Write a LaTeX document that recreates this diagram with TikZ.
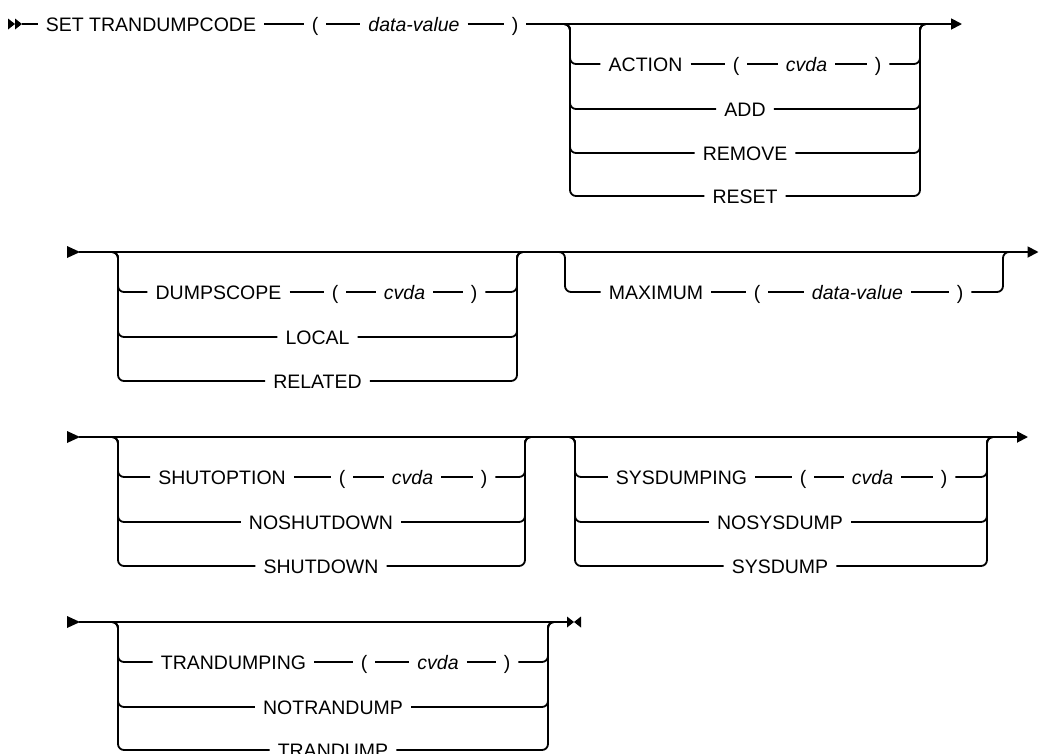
\documentclass[tikz,border=0pt]{standalone}
\usepackage{fontspec}
\setmainfont{Liberation Sans}
\usetikzlibrary{arrows.meta,calc}
\tikzset{
  tok/.style={font=\fontsize{19.5}{22}\selectfont, inner xsep=8pt, inner ysep=0pt, text height=16pt, text depth=2pt},
  kw/.style={tok},
  var/.style={tok, font=\fontsize{19.5}{22}\selectfont\itshape},
  rail/.style={line width=1.8pt, line join=round},
  branch/.style={rail, rounded corners=6pt},
  endarrow/.style={rail, -{Triangle[length=11pt,width=11pt]}},
}
\begin{document}
\begin{tikzpicture}[x=1pt,y=-1pt]
\useasboundingbox (0,0) rectangle (1039,753);

% ---------------- Row 1 ----------------
\fill (8,18.5) -- (15,24) -- (8,29.5) -- cycle;
\fill (15,18.5) -- (22,24) -- (15,29.5) -- cycle;
\coordinate (s1) at (22,24);
\node[kw]  (set) at (151,24) {SET TRANDUMPCODE};
\node[kw]  (lp1) at (315,24) {(};
\node[var] (dv1) at (414,24) {data-value};
\node[kw]  (rp1) at (515,24) {)};
\draw[rail] (s1) -- (set) -- (lp1) -- (dv1) -- (rp1);
\coordinate (Ain) at (560,24);
\coordinate (A1) at (570,24);
\coordinate (A2) at (920,24);
\coordinate (Aout) at (930,24);
\coordinate (e1) at (962,24);
\draw[endarrow] (rp1) -- (e1);

\node[kw]  (act) at (645.5,64) {ACTION};
\node[kw]  (lp2) at (736,64) {(};
\node[var] (cv2) at (806.5,64) {cvda};
\node[kw]  (rp2) at (878,64) {)};
\draw[rail] (act) -- (lp2) -- (cv2) -- (rp2);
\draw[branch] (Ain) -- (A1) |- (act.west);
\draw[branch] (rp2.east) -| (A2) -- (Aout);
\foreach \n/\t/\y in {add/ADD/109, rem/REMOVE/153, rst/RESET/196} {
  \node[kw] (\n) at (745,\y) {\t};
  \draw[branch] (Ain) -- (A1) |- (\n.west);
  \draw[branch] (\n.east) -| (A2) -- (Aout);
}

% ---------------- Row 2 ----------------
\fill (67,246) -- (80,252) -- (67,258) -- cycle;
\coordinate (s2) at (79,252);
\coordinate (e2) at (1038.5,252);
\draw[endarrow] (s2) -- (e2);
\coordinate (Bin) at (108,252);
\coordinate (B1) at (118,252);
\coordinate (B2) at (517,252);
\coordinate (Bout) at (527,252);
\node[kw]  (dsc) at (218.5,292) {DUMPSCOPE};
\node[kw]  (lp3) at (335,292) {(};
\node[var] (cv3) at (404.5,292) {cvda};
\node[kw]  (rp3) at (474,292) {)};
\draw[rail] (dsc) -- (lp3) -- (cv3) -- (rp3);
\draw[branch] (Bin) -- (B1) |- (dsc.west);
\draw[branch] (rp3.east) -| (B2) -- (Bout);
\foreach \n/\t/\y in {loc/LOCAL/337, rel/RELATED/381} {
  \node[kw] (\n) at (317.5,\y) {\t};
  \draw[branch] (Bin) -- (B1) |- (\n.west);
  \draw[branch] (\n.east) -| (B2) -- (Bout);
}
\coordinate (Cin) at (555,252);
\coordinate (C1) at (565,252);
\coordinate (C2) at (1003,252);
\coordinate (Cout) at (1013,252);
\node[kw]  (max) at (656,292) {MAXIMUM};
\node[kw]  (lp4) at (757,292) {(};
\node[var] (dv4) at (857.5,292) {data-value};
\node[kw]  (rp4) at (960,292) {)};
\draw[rail] (max) -- (lp4) -- (dv4) -- (rp4);
\draw[branch] (Cin) -- (C1) |- (max.west);
\draw[branch] (rp4.east) -| (C2) -- (Cout);

% ---------------- Row 3 ----------------
\fill (67,431) -- (80,437) -- (67,443) -- cycle;
\coordinate (s3) at (79,437);
\coordinate (e3) at (1028,437);
\draw[endarrow] (s3) -- (e3);
\coordinate (Din) at (108,437);
\coordinate (D1) at (118,437);
\coordinate (D2) at (525,437);
\coordinate (Dout) at (535,437);
\node[kw]  (sho) at (222,477) {SHUTOPTION};
\node[kw]  (lp5) at (342,477) {(};
\node[var] (cv5) at (412.5,477) {cvda};
\node[kw]  (rp5) at (484,477) {)};
\draw[rail] (sho) -- (lp5) -- (cv5) -- (rp5);
\draw[branch] (Din) -- (D1) |- (sho.west);
\draw[branch] (rp5.east) -| (D2) -- (Dout);
\foreach \n/\t/\y in {nsh/NOSHUTDOWN/522, shd/SHUTDOWN/566} {
  \node[kw] (\n) at (321,\y) {\t};
  \draw[branch] (Din) -- (D1) |- (\n.west);
  \draw[branch] (\n.east) -| (D2) -- (Dout);
}
\coordinate (Ein) at (565,437);
\coordinate (E1) at (575,437);
\coordinate (E2) at (987,437);
\coordinate (Eout) at (997,437);
\node[kw]  (sdg) at (681.5,477) {SYSDUMPING};
\node[kw]  (lp6) at (803,477) {(};
\node[var] (cv6) at (872.5,477) {cvda};
\node[kw]  (rp6) at (944,477) {)};
\draw[rail] (sdg) -- (lp6) -- (cv6) -- (rp6);
\draw[branch] (Ein) -- (E1) |- (sdg.west);
\draw[branch] (rp6.east) -| (E2) -- (Eout);
\foreach \n/\t/\y in {nsd/NOSYSDUMP/522, sdp/SYSDUMP/566} {
  \node[kw] (\n) at (780,\y) {\t};
  \draw[branch] (Ein) -- (E1) |- (\n.west);
  \draw[branch] (\n.east) -| (E2) -- (Eout);
}

% ---------------- Row 4 ----------------
\fill (67,616) -- (80,622) -- (67,628) -- cycle;
\coordinate (s4) at (79,622);
\coordinate (e4) at (568,622);
\draw[rail] (s4) -- (e4);
\fill (567,616.5) -- (574,622) -- (567,627.5) -- cycle;
\fill (581,616.5) -- (574,622) -- (581,627.5) -- cycle;
\coordinate (Fin) at (108,622);
\coordinate (F1) at (118,622);
\coordinate (F2) at (548,622);
\coordinate (Fout) at (558,622);
\node[kw]  (tdg) at (233.5,662) {TRANDUMPING};
\node[kw]  (lp7) at (364,662) {(};
\node[var] (cv7) at (438,662) {cvda};
\node[kw]  (rp7) at (507,662) {)};
\draw[rail] (tdg) -- (lp7) -- (cv7) -- (rp7);
\draw[branch] (Fin) -- (F1) |- (tdg.west);
\draw[branch] (rp7.east) -| (F2) -- (Fout);
\foreach \n/\t/\y in {ntd/NOTRANDUMP/707, tdp/TRANDUMP/750} {
  \node[kw] (\n) at (333,\y) {\t};
  \draw[branch] (Fin) -- (F1) |- (\n.west);
  \draw[branch] (\n.east) -| (F2) -- (Fout);
}
\end{tikzpicture}
\end{document}
